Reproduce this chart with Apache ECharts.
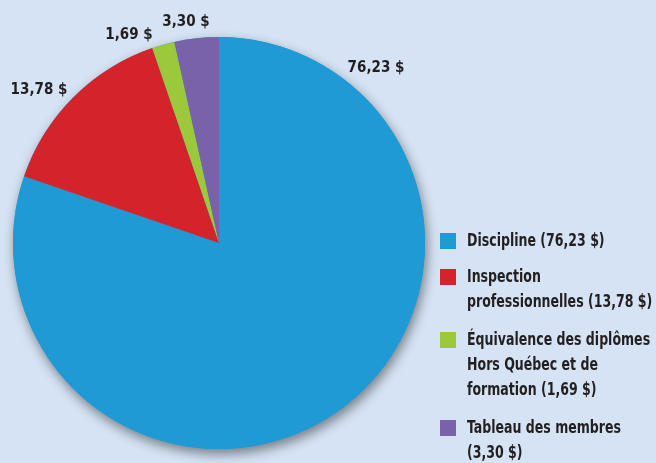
<!DOCTYPE html>
<html>
<head>
<meta charset="utf-8">
<script src="https://cdn.jsdelivr.net/npm/echarts@6/dist/echarts.min.js"></script>
<style>
html,body{margin:0;padding:0;background:#d5e3f4;}
#c{width:656px;height:463px;}
</style>
</head>
<body>
<div id="c"></div>
<script>
const categories = ['Discipline', 'Inspection professionnelles', 'Équivalence des diplômes Hors Québec et de formation', 'Tableau des membres'];
const values = [76.23, 13.78, 1.69, 3.30];
const legendLines = [
  ['Discipline (76,23 $)'],
  ['Inspection', 'professionnelles (13,78 $)'],
  ['Équivalence des diplômes', 'Hors Québec et de', 'formation (1,69 $)'],
  ['Tableau des membres', '(3,30 $)']
];
const colors = ['#1f9ad5', '#d4232b', '#9cc93c', '#7a62a8'];

const FONT = "'DejaVu Sans Condensed', 'Liberation Sans Narrow', sans-serif";
const labelPos = [[376, 68], [39, 90], [129, 35], [186, 22]];
const legendTop = [233, 269, 332, 420];
const fmt = v => v.toFixed(2).replace('.', ',') + ' $';

const chart = echarts.init(document.getElementById('c'));
const total = values.reduce((a, b) => a + b, 0);

const graphics = [];
legendLines.forEach((lines, i) => {
  graphics.push({
    type: 'rect', left: 440, top: legendTop[i],
    shape: { width: 16, height: 16 },
    style: { fill: colors[i] }
  });
  graphics.push({
    type: 'text', x: 467, y: legendTop[i] + 8 - 12.5,
    scaleX: 0.775,
    style: {
      text: lines.join('\n'), fill: '#231f20',
      font: 'bold 18px ' + FONT, lineHeight: 25
    }
  });
});

chart.setOption({
  backgroundColor: '#d5e3f4',
  animation: false,
  graphic: graphics,
  series: [
    {
      type: 'pie', silent: true, center: [219, 243], radius: 206,
      data: [{ value: total, name: 'shadow' }],
      label: { show: false }, labelLine: { show: false },
      itemStyle: {
        color: '#1f9ad5',
        shadowBlur: 12, shadowColor: 'rgba(0,0,0,0.45)',
        shadowOffsetX: 2, shadowOffsetY: 5
      },
      z: 1
    },
    {
      type: 'pie', center: [219, 243], radius: 206,
      startAngle: 90, clockwise: true,
      data: categories.map((c, i) => ({ name: c, value: values[i], itemStyle: { color: colors[i] } })),
      itemStyle: { borderWidth: 0 },
      label: {
        show: true, position: 'outside', overflow: 'none', width: 200,
        formatter: p => fmt(p.value),
        color: '#231f20', fontFamily: FONT, fontWeight: 'bold', fontSize: 15
      },
      labelLine: { show: false },
      labelLayout: p => ({
        x: labelPos[p.dataIndex][0], y: labelPos[p.dataIndex][1],
        align: 'center', verticalAlign: 'middle'
      }),
      z: 2
    }
  ]
});
</script>
</body>
</html>
